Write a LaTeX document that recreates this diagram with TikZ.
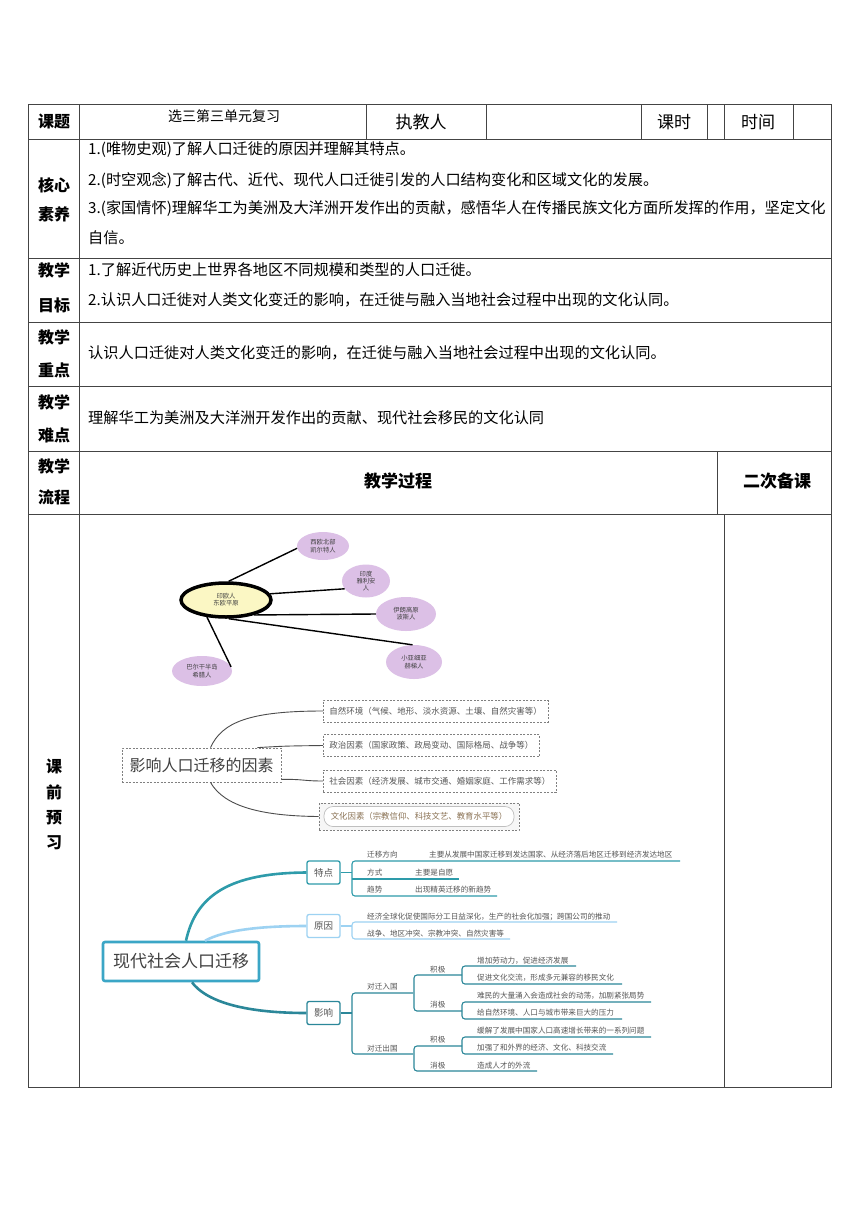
\documentclass[tikz,border=0pt]{standalone}
\usepackage{fontspec}
\setmainfont{Noto Sans CJK SC}
\usetikzlibrary{shapes.geometric,calc}
\definecolor{gridc}{HTML}{444444}
\definecolor{tealA}{HTML}{2E9BAA}
\definecolor{blueA}{HTML}{9DD2F2}
\definecolor{tealB}{HTML}{2B8799}
\definecolor{mainb}{HTML}{3BA6C6}
\definecolor{ylw}{HTML}{FBF7C4}
\definecolor{prp}{HTML}{DCC0E6}
\definecolor{txt}{HTML}{555555}
\definecolor{brn}{HTML}{8B7355}
\tikzset{
  lbl/.style={font=\fontsize{16}{16}\selectfont\bfseries, inner sep=0},
  hdr/.style={font=\fontsize{16}{16}\selectfont, inner sep=0},
  body/.style={anchor=west, font=\fontsize{15.2}{16}\selectfont, inner sep=0},
  tiny/.style={font=\fontsize{6.3}{7.2}\selectfont, align=center, text=black!75, inner sep=0},
  sm/.style={anchor=west, font=\fontsize{7.6}{8}\selectfont, text=txt, inner sep=0},
  fbox/.style={anchor=west, draw=gray, dash pattern=on 2pt off 1.5pt, line width=0.8pt, font=\fontsize{8.5}{9}\selectfont, text=txt, inner xsep=6pt, inner ysep=0pt, minimum height=22},
  purp/.style={ellipse, fill=prp, tiny},
  br/.style={node font=\fontsize{9.5}{10}\selectfont, font=\fontsize{9.5}{10}\selectfont, text=txt, rounded corners=2pt, line width=1.3pt, minimum width=33, minimum height=23, inner sep=0},
}
\begin{document}
\begin{tikzpicture}[x=1pt,y=-1pt]
\useasboundingbox (0,0) rectangle (860,1216);
\fill[white] (0,0) rectangle (860,1216);
% ---------- table grid ----------
\begin{scope}[draw=gridc, line width=0.9pt]
\draw (28,104) rectangle (831,1087);
\foreach \y in {139,258,322,386,451,514} \draw (28,\y) -- (831,\y);
\draw (79,104) -- (79,1087);
\foreach \x in {366,486,641,707,724,793} \draw (\x,104) -- (\x,139);
\draw (717,451) -- (717,514);
\draw (724,514) -- (724,1087);
\end{scope}
% ---------- header ----------
\node[lbl] (kt) at (54,121) {课题};
\node[hdr, font=\fontsize{14}{14}\selectfont] (title) at (224,116) {选三第三单元复习};
\node[hdr, font=\fontsize{17}{17}\selectfont] (zjr) at (421,122) {执教人};
\node[hdr, font=\fontsize{17}{17}\selectfont] (ks) at (674,122) {课时};
\node[hdr, font=\fontsize{17}{17}\selectfont] (sj) at (758,122) {时间};
% ---------- left labels ----------
\node[lbl] (l1a) at (54,185) {核心};
\node[lbl] (l1b) at (54,214) {素养};
\node[lbl] (l2a) at (54,270) {教学};
\node[lbl] (l2b) at (54,305) {目标};
\node[lbl] (l3a) at (54,337) {教学};
\node[lbl] (l3b) at (54,370) {重点};
\node[lbl] (l4a) at (54,402) {教学};
\node[lbl] (l4b) at (54,435) {难点};
\node[lbl] (l5a) at (54,466) {教学};
\node[lbl] (l5b) at (54,497) {流程};
\node[lbl] (k1) at (54,766) {课};
\node[lbl] (k2) at (54,792) {前};
\node[lbl] (k3) at (54,818) {预};
\node[lbl] (k4) at (54,843) {习};
% ---------- body text ----------
\node[body] (c1) at (88,150) {1.(唯物史观)了解人口迁徙的原因并理解其特点。};
\node[body] (c2) at (88,180) {2.(时空观念)了解古代、近代、现代人口迁徙引发的人口结构变化和区域文化的发展。};
\node[body] (c3) at (88,209) {3.(家国情怀)理解华工为美洲及大洋洲开发作出的贡献，感悟华人在传播民族文化方面所发挥的作用，坚定文化};
\node[body] (c4) at (88,238) {自信。};
\node[body] (g1) at (88,270) {1.了解近代历史上世界各地区不同规模和类型的人口迁徙。};
\node[body] (g2) at (88,300) {2.认识人口迁徙对人类文化变迁的影响，在迁徙与融入当地社会过程中出现的文化认同。};
\node[body] (zd) at (88,353) {认识人口迁徙对人类文化变迁的影响，在迁徙与融入当地社会过程中出现的文化认同。};
\node[body] (nd) at (88,418) {理解华工为美洲及大洋洲开发作出的贡献、现代社会移民的文化认同};
\node[lbl, font=\fontsize{17}{17}\selectfont\bfseries] (gc) at (398,481) {教学过程};
\node[lbl, font=\fontsize{17}{17}\selectfont\bfseries] (ec) at (777,481) {二次备课};
% ---------- mind map 1 ----------
\node[purp, minimum width=52, minimum height=28] (celt) at (323,546) {西欧北部\\凯尔特人};
\node[purp, minimum width=48, minimum height=33] (ind) at (366,581) {印度\\雅利安\\人};
\node[purp, minimum width=60, minimum height=34] (per) at (406,614) {伊朗高原\\波斯人};
\node[purp, minimum width=56, minimum height=34] (hit) at (414,662) {小亚细亚\\赫梯人};
\node[purp, minimum width=60, minimum height=30] (gre) at (202,671) {巴尔干半岛\\希腊人};
\node[ellipse, draw=black, line width=3.5pt, fill=ylw, minimum width=90, minimum height=34, tiny] (ioe) at (226,600) {印欧人\\东欧平原};
\begin{scope}[line width=1.4pt]
\draw (ioe.82) -- (celt.185);
\draw (ioe.8) -- (ind.200);
\draw (ioe.-28) -- (per.180);
\draw (ioe.-82) -- (hit.95);
\draw (ioe.-138) -- (gre.8);
\end{scope}
% ---------- mind map 2 ----------
\node[draw=gray, dash pattern=on 2pt off 1.5pt, line width=0.8pt, minimum width=159, minimum height=34, inner sep=0, font=\fontsize{16}{16}\selectfont, text=black!75] (fac) at (201.5,765) {影响人口迁移的因素};
\node[fbox] (f1) at (323,711) {自然环境（气候、地形、淡水资源、土壤、自然灾害等）};
\node[fbox] (f2) at (323,745.5) {政治因素（国家政策、政局变动、国际格局、战争等）};
\node[fbox] (f3) at (323,781) {社会因素（经济发展、城市交通、婚姻家庭、工作需求等）};
\node[draw=gray, dash pattern=on 2pt off 1.5pt, line width=0.8pt, fill=gray!7, minimum width=200, minimum height=27, inner sep=0] (f4o) at (419,816.5) {};
\node[draw=gray!50, line width=0.7pt, rounded corners=9pt, minimum width=190, minimum height=20, inner sep=0, font=\fontsize{8.4}{9}\selectfont, text=brn, fill=white] (f4) at (f4o.center) {文化因素（宗教信仰、科技文艺、教育水平等）};
\begin{scope}[draw=black!70, line width=0.9pt]
\draw ($(fac.north)+(9,0)$) .. controls (222,722) and (250,711) .. (f1.west);
\draw ($(fac.north east)+(-24,0)$) .. controls (285,746) .. (f2.west);
\draw ($(fac.south east)+(0,-3)$) .. controls (303,779) and (303,781) .. (f3.west);
\draw ($(fac.south)+(9,0)$) .. controls (224,806) and (260,816) .. (f4o.west);
\end{scope}
% ---------- mind map 3 ----------
\node[draw=mainb, line width=2.6pt, rounded corners=2pt, minimum width=156, minimum height=39, inner sep=0, font=\fontsize{17}{17}\selectfont, text=black!75, fill=white] (mod) at (181,961.5) {现代社会人口迁移};
\node[br, draw=tealA] (td) at (323.5,872.5) {特点};
\node[br, draw=blueA] (yy) at (323.5,926) {原因};
\node[br, draw=tealB] (yx) at (323.5,1013) {影响};
\draw[tealA, line width=2.6pt] ($(mod.north)+(5,0)$) .. controls (196,895) and (230,873) .. (td.west);
\draw[blueA, line width=2.6pt] ($(mod.north)+(24,0)$) .. controls (225,930) and (260,926) .. (yy.west);
\draw[tealB, line width=2.6pt] ($(mod.south)+(11,0)$) .. controls (205,1000) and (240,1013) .. (yx.west);
% 特点
\coordinate (tdb) at (352,872.5);
\draw[tealA, line width=1.1pt] (td.east) -- (tdb);
\draw[tealA, line width=1.1pt, rounded corners=3pt] (680,861) -- (352,861) -- (352,896) -- (497,896);
\draw[tealA, line width=1.1pt] (352,879) -- (459,879);
\node[sm] (a1) at (367,855) {迁移方向};
\node[sm] (a2) at (429,855) {主要从发展中国家迁移到发达国家、从经济落后地区迁移到经济发达地区};
\node[sm] (a3) at (367,873) {方式};
\node[sm] (a4) at (415,873) {主要是自愿};
\node[sm] (a5) at (367,890) {趋势};
\node[sm] (a6) at (415,890) {出现精英迁移的新趋势};
% 原因
\coordinate (yyb) at (352,926);
\draw[blueA, line width=1.1pt] (yy.east) -- (yyb);
\draw[blueA, line width=1.1pt, rounded corners=3pt] (617,922) -- (352,922) -- (352,939) -- (510,939);
\node[sm] (b1) at (367,917) {经济全球化促使国际分工日益深化，生产的社会化加强；跨国公司的推动};
\node[sm] (b2) at (367,934) {战争、地区冲突、宗教冲突、自然灾害等};
% 影响
\begin{scope}[tealB, line width=1.1pt]
\coordinate (yxb) at (352,1013);
\draw (yx.east) -- (yxb);
\draw[rounded corners=3pt] (413,993) -- (352,993) -- (352,1054) -- (413,1054);
\draw[rounded corners=3pt] (462,975) -- (414,975) -- (414,1011) -- (462,1011);
\draw[rounded corners=3pt] (576,966) -- (462,966) -- (462,984) -- (622,984);
\draw[rounded corners=3pt] (651,1002) -- (462,1002) -- (462,1019) -- (622,1019);
\draw[rounded corners=3pt] (462,1046) -- (414,1046) -- (414,1071) -- (537,1071);
\draw[rounded corners=3pt] (651,1037) -- (462,1037) -- (462,1054) -- (613,1054);
\end{scope}
\node[sm] (d1) at (367,987) {对迁入国};
\node[sm] (d2) at (367,1049) {对迁出国};
\node[sm] (d3) at (430,970) {积极};
\node[sm] (d4) at (430,1005) {消极};
\node[sm] (d5) at (430,1040) {积极};
\node[sm] (d6) at (430,1066) {消极};
\node[sm] (e1) at (477,961) {增加劳动力，促进经济发展};
\node[sm] (e2) at (477,978) {促进文化交流，形成多元兼容的移民文化};
\node[sm] (e3) at (477,996) {难民的大量涌入会造成社会的动荡，加剧紧张局势};
\node[sm] (e4) at (477,1013) {给自然环境、人口与城市带来巨大的压力};
\node[sm] (e5) at (477,1031) {缓解了发展中国家人口高速增长带来的一系列问题};
\node[sm] (e6) at (477,1048) {加强了和外界的经济、文化、科技交流};
\node[sm] (e7) at (477,1066) {造成人才的外流};
\end{tikzpicture}
\end{document}
